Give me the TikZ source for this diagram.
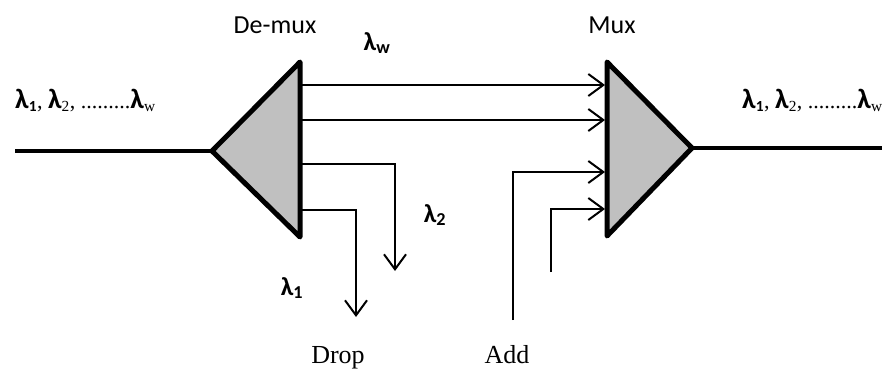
\documentclass[tikz,border=0pt]{standalone}
\usepackage{fontspec}
\setmainfont{Liberation Serif}
\newfontfamily\calfont{Carlito}
\usetikzlibrary{arrows.meta}
\newcommand\lbf{\calfont\bfseries}
\newcommand\biglam{{\fontsize{28}{32}\lbf λ}}
\newcommand\lamlist{\biglam\textsubscript{\lbf 1}, \biglam\textsubscript{2}, .........\biglam\textsubscript{w}}
\begin{document}
\begin{tikzpicture}[x=1pt,y=-1pt,
  sig/.style={line width=2pt},
  arr/.style={sig,-{Straight Barb[length=15pt,width=22pt,line width=2pt]}},
  mainline/.style={line width=4pt},
  tri/.style={line width=5pt,line join=round,fill={rgb,255:red,192;green,192;blue,192}},
  sans/.style={font=\calfont\fontsize{26}{30}\selectfont, inner sep=0pt, anchor=base},
  lam/.style={font=\lbf\fontsize{26}{30}\selectfont, inner sep=0pt, anchor=base},
  ser/.style={font=\fontsize{26}{30}\selectfont, inner sep=0pt, anchor=base},
  list/.style={font=\fontsize{22}{26}\selectfont, inner sep=0pt, anchor=base west},
]
\useasboundingbox (0,0) rectangle (882,370);

% triangle corners
\coordinate (dtip) at (212,151);
\coordinate (dtop) at (300,62);
\coordinate (dbot) at (300,237);
\coordinate (mtip) at (692,148);
\coordinate (mtop) at (607,62);
\coordinate (mbot) at (607,236);

% line ends
\coordinate (in) at (15,151);
\coordinate (out) at (882,148);
\coordinate (d1) at (300,85);
\coordinate (d2) at (300,120);
\coordinate (d3) at (300,164);
\coordinate (d4) at (300,210);
\coordinate (m1) at (605,85);
\coordinate (m2) at (605,120);
\coordinate (m3) at (605,172);
\coordinate (m4) at (605,209);
\coordinate (dropB) at (395,271);
\coordinate (dropA) at (356,317);
\coordinate (addA) at (513,320);
\coordinate (addB) at (551,272);

% main lines
\draw[mainline] (in) -- (dtip);
\draw[mainline] (mtip) -- (out);

% channels
\draw[arr] (d1) -- (m1);
\draw[arr] (d2) -- (m2);
\draw[arr] (d3) -| (dropB);
\draw[arr] (d4) -| (dropA);
\draw[arr] (addA) |- (m3);
\draw[arr] (addB) |- (m4);

% demux / mux
\draw[tri] (dtip) -- (dtop) -- (dbot) -- cycle;
\draw[tri] (mtip) -- (mtop) -- (mbot) -- cycle;

% labels
\node[sans] (demux) at (275,33) {De-mux};
\node[sans] (mux) at (612,33) {Mux};
\node[lam] (lw) at (377,50) {λ\textsubscript{w}};
\node[lam] (l2) at (435,222) {λ\textsubscript{2}};
\node[lam] (l1) at (292,295) {λ\textsubscript{1}};
\node[ser] (drop) at (338,363) {Drop};
\node[ser] (add) at (507,363) {Add};
\node[list] (inl) at (15,108) {\lamlist};
\node[list] (outl) at (742,108) {\lamlist};
\end{tikzpicture}
\end{document}
